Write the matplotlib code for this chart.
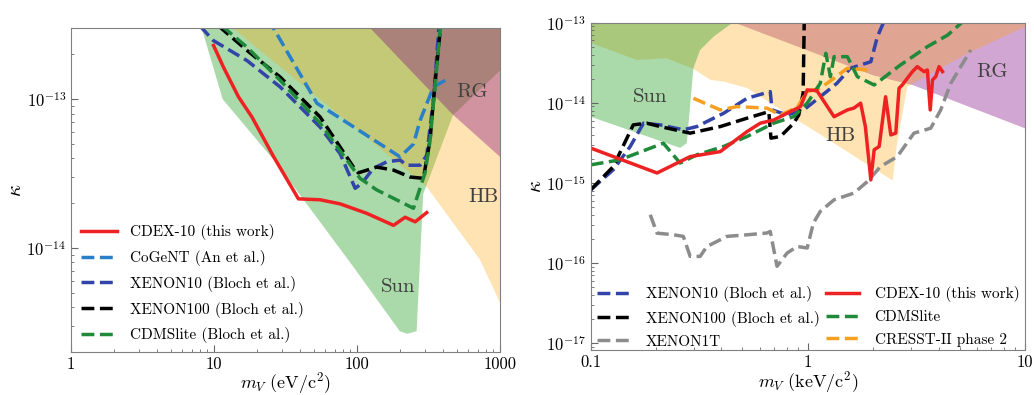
import matplotlib
matplotlib.use("Agg")
import matplotlib.pyplot as plt
from matplotlib.ticker import FixedLocator, FixedFormatter, LogLocator, NullFormatter

plt.rcParams['font.family'] = 'serif'
plt.rcParams['font.serif'] = ['cmr10', 'DejaVu Serif']
plt.rcParams['mathtext.fontset'] = 'cm'
plt.rcParams['axes.formatter.use_mathtext'] = True
plt.rcParams['axes.unicode_minus'] = False

# ---------------- left panel (eV) ----------------
sun_l_x = [8.2, 8.2, 11.5, 27.4, 94, 199, 224, 261, 290, 468, 1000, 1000]
sun_l_y = [1e-12, 3e-13, 1.0e-13, 3.7e-14, 7.5e-15, 2.76e-15, 2.65e-15, 2.76e-15, 2.3e-14, 7.8e-14, 1.56e-13, 1e-12]
hb_l_x = [13.7, 13.7, 305, 721, 1000, 1000]
hb_l_y = [1e-12, 2.98e-13, 2.6e-14, 8.4e-15, 4.3e-15, 1e-12]
rg_l_x = [120, 120, 460, 1000, 1000]
rg_l_y = [1e-12, 3.1e-13, 8.0e-14, 4.1e-14, 1e-12]

cdex_l_x = [9.92, 11.65, 14.8, 18.4, 26.1, 38.9, 55.2, 76.2, 117, 180, 217, 255, 307]
cdex_l_y = [2.30e-13, 1.64e-13, 1.04e-13, 7.6e-14, 4.11e-14, 2.14e-14, 2.11e-14, 1.98e-14,
            1.71e-14, 1.42e-14, 1.61e-14, 1.50e-14, 1.73e-14]
cogent_x = [23.9, 52.4, 200, 248, 276, 342, 413]
cogent_y = [3.47e-13, 9.4e-14, 4.1e-14, 5.0e-14, 7.2e-14, 1.21e-13, 1.34e-13]
xe10_l_x = [8.0, 9.9, 17.0, 29.0, 55.2, 76.2, 97, 108, 130, 162, 200, 223, 276, 307, 342, 375]
xe10_l_y = [3.1e-13, 2.48e-13, 1.82e-13, 1.21e-13, 6.5e-14, 4.3e-14, 2.52e-14, 2.72e-14,
            3.43e-14, 3.8e-14, 3.9e-14, 3.6e-14, 3.6e-14, 4.2e-14, 9.8e-14, 3.2e-13]
xe100_l_x = [10.8, 17.0, 29.0, 55.2, 94.4, 102, 137, 180, 235, 291, 324, 342, 385]
xe100_l_y = [3.1e-13, 2.13e-13, 1.41e-13, 7.6e-14, 3.5e-14, 3.2e-14, 3.5e-14, 3.34e-14,
             3.0e-14, 2.94e-14, 5.3e-14, 9.8e-14, 3.2e-13]
cdms_l_x = [11.4, 17.0, 29.0, 55.2, 105, 137, 248, 299, 324, 385]
cdms_l_y = [3.1e-13, 2.24e-13, 1.34e-13, 6.9e-14, 2.94e-14, 2.46e-14, 1.85e-14, 3.2e-14,
            5.3e-14, 3.2e-13]

# ---------------- right panel (keV) ----------------
sun_r_x = [0.1, 0.46, 0.45, 0.368, 0.319, 0.297, 0.277, 0.258, 0.1]
sun_r_y = [2e-13, 2e-13, 1e-13, 6.7e-14, 4.57e-14, 2.7e-14, 3.13e-15, 2.74e-15, 6.7e-15]
hb_r_x = [0.1, 0.1, 0.163, 0.224, 0.297, 0.356, 0.409, 0.525, 0.89, 1.055, 2.46, 2.56, 2.87,
          5.4, 10, 10]
hb_r_y = [2e-13, 5.6e-14, 3.43e-14, 3.6e-14, 2.65e-14, 1.93e-14, 1.84e-14, 1.53e-14, 6.1e-15,
          4.6e-15, 1.07e-15, 2.8e-15, 1.59e-14, 4.1e-14, 8.9e-14, 2e-13]
rg_r_x = [0.47, 0.46, 2.0, 3.05, 10, 10]
rg_r_y = [2e-13, 1e-13, 2.2e-14, 1.66e-14, 4.8e-15, 2e-13]

cdex_r_x = [0.1, 0.202, 0.287, 0.395, 0.525, 0.604, 0.696, 0.802, 0.925, 0.993, 1.10, 1.32,
            1.52, 1.63, 1.75, 1.84, 1.95, 2.02, 2.13, 2.28, 2.41, 2.54, 2.63, 2.72, 3.03,
            3.19, 3.43, 3.55, 3.66, 3.75, 3.88, 4.02, 4.17]
cdex_r_y = [2.72e-15, 1.33e-15, 2.13e-15, 2.46e-15, 4.38e-15, 5.57e-15, 6.1e-15, 7.4e-15,
            8.97e-15, 1.45e-14, 1.42e-14, 6.7e-15, 8.15e-15, 8.6e-15, 9.9e-15, 5.05e-15,
            1.09e-15, 2.59e-15, 2.85e-15, 1.19e-14, 3.98e-15, 4.18e-15, 1.52e-14, 1.67e-14,
            2.45e-14, 2.83e-14, 2.45e-14, 2.57e-14, 8.15e-15, 1.93e-14, 2.12e-14, 2.83e-14,
            2.45e-14]
xe10_r_x = [0.1, 0.127, 0.152, 0.175, 0.209, 0.267, 0.308, 0.409, 0.525, 0.671, 0.684, 0.802,
            0.957, 1.14, 1.36, 1.57, 1.95, 2.09, 2.31]
xe10_r_y = [8.2e-16, 1.46e-15, 2.85e-15, 5.57e-15, 5.3e-15, 4.6e-15, 5.05e-15, 7.4e-15,
            1.14e-14, 1.38e-14, 8.15e-15, 7.06e-15, 8.15e-15, 1.19e-14, 1.75e-14, 2.7e-14,
            3.26e-14, 6.7e-14, 1.25e-13]
xe100_r_x = [0.1, 0.127, 0.157, 0.181, 0.209, 0.287, 0.395, 0.525, 0.661, 0.676, 0.748,
             0.861, 0.908, 0.951, 0.964]
xe100_r_y = [8.2e-16, 1.6e-15, 5.3e-15, 5.57e-15, 5.05e-15, 4.18e-15, 5.05e-15, 6.43e-15,
             7.76e-15, 3.62e-15, 3.8e-15, 5.57e-15, 7.06e-15, 1.32e-14, 1.44e-13]
xe1t_x = [0.188, 0.202, 0.241, 0.267, 0.287, 0.319, 0.343, 0.424, 0.525, 0.649, 0.671, 0.721,
          0.802, 0.893, 0.993, 1.06, 1.14, 1.32, 1.63, 1.88, 2.16, 2.58, 3.08, 3.68, 4.09,
          4.55, 5.06, 5.63]
xe1t_y = [4.0e-16, 2.36e-16, 2.25e-16, 2.15e-16, 1.21e-16, 1.21e-16, 1.61e-16, 2.15e-16,
          2.25e-16, 2.37e-16, 2.48e-16, 9.1e-17, 1.33e-16, 1.61e-16, 1.54e-16, 3.15e-16,
          4.4e-16, 6.15e-16, 7.46e-16, 1.04e-15, 1.6e-15, 2.13e-15, 4.18e-15, 4.82e-15,
          8.15e-15, 1.75e-14, 2.83e-14, 4.57e-14]
cdms_r_x = [0.1, 0.136, 0.216, 0.258, 0.308, 0.409, 0.525, 0.696, 0.861, 0.993, 1.14, 1.21,
            1.27, 1.32, 1.52, 1.69, 2.02, 2.67, 3.55, 4.40, 5.6]
cdms_r_y = [1.68e-15, 1.94e-15, 3.13e-15, 1.77e-15, 2.24e-15, 2.85e-15, 3.8e-15, 5.57e-15,
            6.73e-15, 9.9e-15, 1.75e-14, 4.15e-14, 2.12e-14, 3.77e-14, 3.77e-14, 2.12e-14,
            1.67e-14, 2.97e-14, 5.02e-14, 7.0e-14, 1.25e-13]
cresst_x = [0.297, 0.395, 0.472, 0.649, 0.748, 0.893, 0.993, 1.14, 1.32, 1.52, 1.88]
cresst_y = [1.14e-14, 8.15e-15, 8.97e-15, 8.57e-15, 7.06e-15, 8.77e-15, 1.38e-14, 1.52e-14,
            2.03e-14, 2.7e-14, 2.57e-14]

GREEN_FILL = '#2ca02c'
ORANGE_FILL = '#ffa500'
PURPLE_FILL = '#800080'
LW = 2.5


def style_axes(ax):
    ax.set_xscale('log')
    ax.set_yscale('log')
    for s in ax.spines.values():
        s.set_color('0.5')
    ax.tick_params(which='both', direction='in', top=False, right=False, labelsize=12)
    ax.tick_params(which='major', length=5, color='0.4')
    ax.tick_params(which='minor', length=2.5, color='0.4')
    ax.set_ylabel(r'$\kappa$', fontsize=15, labelpad=1)


fig = plt.figure(figsize=(10.34, 3.95), dpi=100)
ax1 = fig.add_axes([0.0687, 0.1089, 0.4149, 0.8195])
ax2 = fig.add_axes([0.5713, 0.1139, 0.4200, 0.8286])

# left panel
style_axes(ax1)
ax1.fill(sun_l_x, sun_l_y, color=GREEN_FILL, alpha=0.4, lw=0)
ax1.fill(hb_l_x, hb_l_y, color=ORANGE_FILL, alpha=0.3, lw=0)
ax1.fill(rg_l_x, rg_l_y, color=PURPLE_FILL, alpha=0.35, lw=0)
ax1.plot(cdex_l_x, cdex_l_y, color='#ee2222', lw=LW, label='CDEX-10 (this work)')
ax1.plot(cogent_x, cogent_y, color='#2a80c8', lw=LW, ls='--', label='CoGeNT (An et al.)')
ax1.plot(xe10_l_x, xe10_l_y, color='#3344a8', lw=LW, ls='--', label='XENON10 (Bloch et al.)')
ax1.plot(xe100_l_x, xe100_l_y, color='black', lw=LW, ls='--', label='XENON100 (Bloch et al.)')
ax1.plot(cdms_l_x, cdms_l_y, color='#1f8a3a', lw=LW, ls='--', label='CDMSlite (Bloch et al.)')
ax1.text(634, 1.12e-13, 'RG', fontsize=15, color='0.25', ha='center', va='center')
ax1.text(764, 2.2e-14, 'HB', fontsize=15, color='0.25', ha='center', va='center')
ax1.text(195, 5.5e-15, 'Sun', fontsize=15, color='0.25', ha='center', va='center')
ax1.set_xlim(1, 1000)
ax1.set_ylim(2e-15, 3e-13)
ax1.xaxis.set_major_locator(FixedLocator([1, 10, 100, 1000]))
ax1.xaxis.set_major_formatter(FixedFormatter(['1', '10', '100', '1000']))
ax1.xaxis.set_minor_locator(LogLocator(base=10, subs=range(2, 10)))
ax1.xaxis.set_minor_formatter(NullFormatter())
ax1.yaxis.set_minor_formatter(NullFormatter())
ax1.set_xlabel(r'$m_V\ (\mathrm{eV/c^2})$', fontsize=13, labelpad=-1)
ax1.legend(loc='lower left', bbox_to_anchor=(0.008, 0.008), borderaxespad=0, frameon=False,
           fontsize=11, handlelength=2.4, handletextpad=0.85, labelspacing=0.64)

# right panel
style_axes(ax2)
ax2.fill(rg_r_x, rg_r_y, color=PURPLE_FILL, alpha=0.35, lw=0)
ax2.fill(hb_r_x, hb_r_y, color=ORANGE_FILL, alpha=0.3, lw=0)
ax2.fill(sun_r_x, sun_r_y, color=GREEN_FILL, alpha=0.4, lw=0)
h_xe10, = ax2.plot(xe10_r_x, xe10_r_y, color='#3344a8', lw=LW, ls='--', label='XENON10 (Bloch et al.)')
h_xe100, = ax2.plot(xe100_r_x, xe100_r_y, color='black', lw=LW, ls='--', label='XENON100 (Bloch et al.)')
h_xe1t, = ax2.plot(xe1t_x, xe1t_y, color='#8c8c8c', lw=LW, ls='--', label='XENON1T')
h_cresst, = ax2.plot(cresst_x, cresst_y, color='#f5a020', lw=LW, ls='--', label='CRESST-II phase 2')
h_cdms, = ax2.plot(cdms_r_x, cdms_r_y, color='#1f8a3a', lw=LW, ls='--', label='CDMSlite')
h_cdex, = ax2.plot(cdex_r_x, cdex_r_y, color='#ee2222', lw=LW, label='CDEX-10 (this work)')
ax2.text(0.188, 1.19e-14, 'Sun', fontsize=15, color='0.25', ha='center', va='center')
ax2.text(1.41, 3.8e-15, 'HB', fontsize=15, color='0.25', ha='center', va='center')
ax2.text(7.08, 2.45e-14, 'RG', fontsize=15, color='0.25', ha='center', va='center')
ax2.set_xlim(0.1, 10)
ax2.set_ylim(8.2e-18, 1e-13)
ax2.xaxis.set_major_locator(FixedLocator([0.1, 1, 10]))
ax2.xaxis.set_major_formatter(FixedFormatter(['0.1', '1', '10']))
ax2.xaxis.set_minor_locator(LogLocator(base=10, subs=range(2, 10)))
ax2.xaxis.set_minor_formatter(NullFormatter())
ax2.yaxis.set_major_locator(FixedLocator([1e-17, 1e-16, 1e-15, 1e-14, 1e-13]))
ax2.yaxis.set_minor_formatter(NullFormatter())
ax2.set_xlabel(r'$m_V\ (\mathrm{keV/c^2})$', fontsize=13, labelpad=-0.5)
ax2.legend(handles=[h_xe10, h_xe100, h_xe1t, h_cdex, h_cdms, h_cresst], ncol=2,
           loc='lower left', bbox_to_anchor=(0.0, -0.015), borderaxespad=0, frameon=False,
           fontsize=11, handlelength=2.2, handletextpad=1.0, labelspacing=0.55,
           columnspacing=0.4)

fig.savefig('out.png', dpi=100)
